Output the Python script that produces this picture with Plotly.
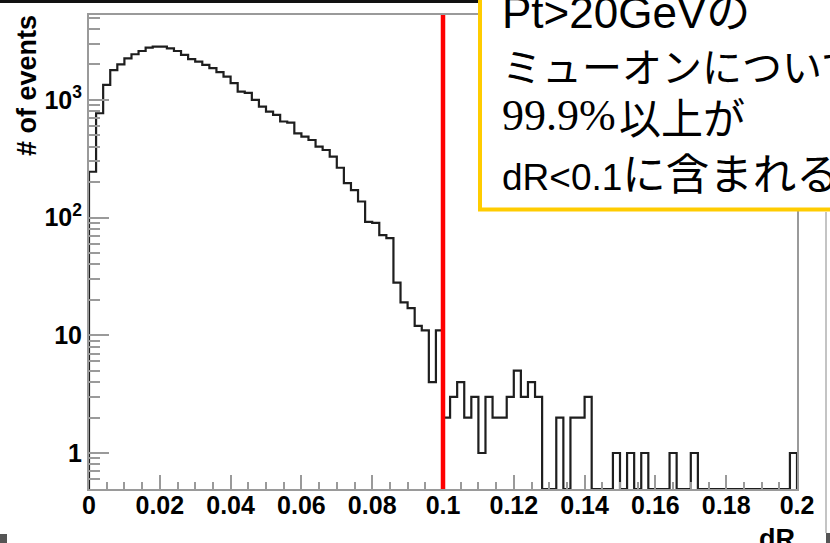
import numpy as np
import plotly.graph_objects as go

# ---- data ----
x_min, x_max = 0.0, 0.2
bin_width = 0.002
counts = [
    245, 770, 1340, 1790, 2000, 2250, 2440, 2600, 2780, 2830,
    2830, 2740, 2600, 2410, 2220, 2110, 1980, 1860, 1720, 1575,
    1385, 1175, 1145, 1000, 875, 795, 745, 655, 640, 520,
    487, 456, 400, 375, 330, 265, 196, 171, 137, 92,
    90, 71, 67, 28, 19, 17, 12, 11, 4, 11,
    2, 3, 4, 2, 3, 1, 3, 2, 2, 3,
    5, 3, 4, 3, 0, 0, 2, 0, 2, 2,
    3, 0, 0, 0, 1, 0, 1, 0, 1, 0,
    0, 0, 1, 0, 0, 1, 0, 0, 0, 0,
    0, 0, 0, 0, 0, 0, 0, 0, 0, 1,
]
cut_value = 0.1
x_tick_vals = [0, 0.02, 0.04, 0.06, 0.08, 0.1, 0.12, 0.14, 0.16, 0.18, 0.2]
x_tick_text = ["0", "0.02", "0.04", "0.06", "0.08", "0.1", "0.12", "0.14", "0.16", "0.18", "0.2"]
y_tick_vals = [1, 10, 100, 1000]
y_tick_text = ["1", "10", "10<sup>2</sup>", "10<sup>3</sup>"]
y_minor_vals = [m * d for d in [0.1, 1, 10, 100, 1000] for m in range(2, 10) if 0.45 < m * d < 5300 and m * d not in (1, 10, 100, 1000)]
y_log_range = [-0.306, 3.721]

# ---- geometry in pixels ----
W, H = 830, 543
L, R, T, B = 89, 797, 15, 489
pw, ph = R - L, B - T


def px(xp):
    return (xp - L) / pw


def py(yp):
    return (B - yp) / ph


# ---- histogram outline ----
floor = 10 ** y_log_range[0]
n = len(counts)
edges = x_min + bin_width * np.arange(n + 1)
xs, ys = [edges[0]], [floor]
for i, c in enumerate(counts):
    v = c if c > 0 else floor
    xs += [edges[i], edges[i + 1]]
    ys += [v, v]
xs.append(edges[-1])
ys.append(floor)

fig = go.Figure()
fig.add_trace(go.Scatter(x=xs, y=ys, mode="lines",
                         line=dict(color="#1e1e1e", width=2.2),
                         hoverinfo="skip", showlegend=False))

grey = "#9a9a9a"
tickfont = dict(family="Liberation Sans, Arial, sans-serif", size=25, color="black", weight="bold")

fig.update_layout(
    width=W, height=H,
    margin=dict(l=L, r=W - R, t=T, b=H - B),
    paper_bgcolor="white", plot_bgcolor="white",
    showlegend=False,
    xaxis=dict(range=[x_min, x_max], showgrid=False, zeroline=False,
               showline=True, linecolor=grey, linewidth=2, mirror=True,
               ticks="inside", ticklen=14, tickwidth=1.5, tickcolor=grey,
               tickmode="array", tickvals=x_tick_vals, ticktext=x_tick_text,
               tickfont=tickfont, ticklabelstandoff=-7,
               minor=dict(dtick=0.005, tick0=0, ticks="inside", ticklen=7, tickwidth=1.5, tickcolor=grey)),
    yaxis=dict(type="log", range=y_log_range, showgrid=False, zeroline=False,
               showline=True, linecolor=grey, linewidth=2, mirror=True,
               ticks="inside", ticklen=20, tickwidth=1.5, tickcolor=grey,
               tickmode="array", tickvals=y_tick_vals, ticktext=y_tick_text,
               tickfont=tickfont,
               minor=dict(tickmode="array", tickvals=y_minor_vals, ticks="inside",
                          ticklen=11, tickwidth=1.5, tickcolor=grey)),
)

shapes = []
# red cut line
shapes.append(dict(type="line", xref="x", yref="paper", x0=cut_value, x1=cut_value, y0=0, y1=1,
                   line=dict(color="#ff0000", width=4.5), layer="above"))
# top dark band of the slide
shapes.append(dict(type="rect", xref="paper", yref="paper", x0=px(0), x1=px(W), y0=py(3), y1=py(-2),
                   fillcolor="#111111", line=dict(width=0), layer="above"))
# annotation box
shapes.append(dict(type="rect", xref="paper", yref="paper", x0=px(480), x1=px(W + 20), y0=py(209.5), y1=py(-20),
                   fillcolor="white", line=dict(color="#FFCC00", width=4), layer="above"))
# slide decorations
shapes.append(dict(type="line", xref="paper", yref="paper", x0=px(826), x1=px(826), y0=py(212), y1=py(533),
                   line=dict(color="#b0b0b0", width=1.5), layer="above"))
shapes.append(dict(type="rect", xref="paper", yref="paper", x0=px(0), x1=px(7), y0=py(543), y1=py(534),
                   fillcolor="#555555", line=dict(width=0), layer="above"))
shapes.append(dict(type="rect", xref="paper", yref="paper", x0=px(826), x1=px(830), y0=py(543), y1=py(533),
                   fillcolor="#555555", line=dict(width=0), layer="above"))
fig.update_layout(shapes=shapes)

cjk = "Noto Sans CJK JP"
sans = "Liberation Sans, Arial, sans-serif"
serif = "Liberation Serif, Times New Roman, serif"
annots = []
# axis titles
annots.append(dict(text="# of events", xref="paper", yref="paper", x=px(27), y=py(86),
                   xanchor="center", yanchor="middle", textangle=-90, showarrow=False,
                   font=dict(family=sans, size=27, color="black", weight="bold")))
annots.append(dict(text="dR", xref="paper", yref="paper", x=1.0, y=py(522),
                   xanchor="right", yanchor="top", showarrow=False,
                   font=dict(family=sans, size=27, color="black", weight="bold")))

# (text, font family, size, x px, y-centre px)
box_parts = [
    ('Pt>20GeV<span style="font-family:%s">の</span>' % cjk, sans, 44, 500, 9),
    ("ミューオンについて", cjk, 40, 500, 64.6),
    ("99.9%", serif, 44, 500, 115.5),
    ("以上が", cjk, 42, 617, 115.5),
    ('<span style="font-size:37px">dR&lt;0.1</span><span style="font-family:%s;font-size:43.5px">に含まれる</span>' % cjk,
     sans, 42, 500, 171.7),
]
for txt, fam, size, xp, yc in box_parts:
    annots.append(dict(text=txt, xref="paper", yref="paper", x=px(xp), y=py(yc),
                       xanchor="left", yanchor="middle", showarrow=False, align="left",
                       font=dict(family=fam, size=size, color="black")))
fig.update_layout(annotations=annots)

fig.write_html("out.html")
